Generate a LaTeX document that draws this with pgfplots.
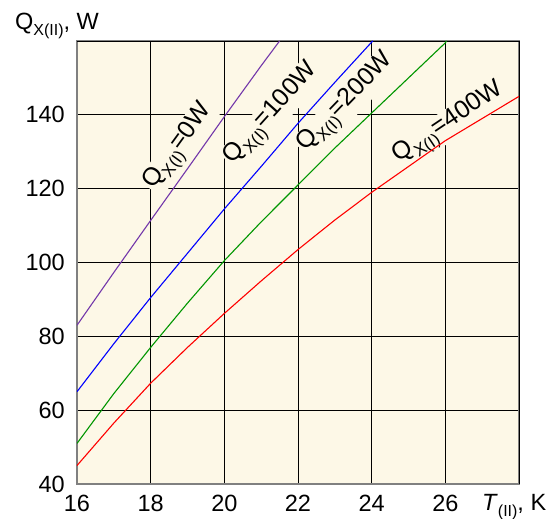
\documentclass[border=0pt]{standalone}
\usepackage{fontspec}
\setmainfont{Liberation Sans}
\usepackage{pgfplots}
\pgfplotsset{compat=1.18}
\definecolor{bgcream}{RGB}{253,248,231}
\definecolor{cpurple}{RGB}{115,55,170}
\definecolor{cgreen}{RGB}{0,150,0}
\newcommand\sub[1]{\raisebox{-0.25em}{\fontsize{16}{16}\selectfont #1}}
\newcommand\lsub[1]{\raisebox{-0.28em}{\fontsize{17}{17}\selectfont #1}}
\newcommand\bigf{\fontsize{23.5}{28}\selectfont}
\newcommand\lblf{\fontsize{25}{30}\selectfont}
\tikzset{lbl/.style={fill=bgcream, inner sep=1pt, font=\lblf}}
\begin{document}
\begin{tikzpicture}
\useasboundingbox (-77pt,-35pt) rectangle (483pt,484pt);
\begin{axis}[
  scale only axis, width=442pt, height=443pt,
  xmin=16, xmax=28, ymin=40, ymax=160,
  xtick={16,18,...,26}, ytick={40,60,...,140},
  extra x ticks={28}, extra x tick labels={},
  extra y ticks={160}, extra y tick labels={},
  grid=major, major grid style={black, line width=0.8pt},
  axis line style={gray, line width=1.3pt},
  major tick length=0pt, tick style={draw=none},
  axis background/.style={fill=bgcream},
  tick label style={font=\bigf},
  /pgf/number format/assume math mode=true,
  xticklabel style={anchor=base, inner sep=0pt, yshift=-28pt},
  yticklabel style={anchor=east, inner sep=0pt, xshift=-12pt},
]
\node[lbl, rotate=54] at (axis cs:18.78,131.1) {Q\lsub{X(I)}=0W};
\node[lbl, rotate=48] at (axis cs:21.3,140.0) {Q\lsub{X(I)}=100W};
\node[lbl, rotate=46] at (axis cs:23.32,143.0) {Q\lsub{X(I)}=200W};
\node[lbl, rotate=34] at (axis cs:26.11,137.4) {Q\lsub{X(I)}=400W};
\addplot[cpurple, line width=1.1pt] coordinates {
(16,83) (17,97.3) (18,111.4) (19,125.4) (20,139.5) (21,153.3) (21.5,160)};
\addplot[blue, line width=1.1pt] coordinates {
(16,65) (17,78) (18,90.5) (19,102.5) (20,114.5) (21,126) (22,137.7) (23,148.8) (24,159.7) (24.03,160)};
\addplot[cgreen, line width=1.1pt] coordinates {
(16,51) (17,64.5) (18,77) (19,89) (20,100.5) (21,111) (22,121) (23,131) (24,140.5) (25,150) (26,159.5) (26.03,160)};
\addplot[red, line width=1.1pt] coordinates {
(16,45) (17,56.5) (18,67.3) (19,77) (20,86.2) (21,95) (22,103.5) (23,111.5) (24,119) (25,126) (26,133) (27,139) (28,145)};
\end{axis}
\node[anchor=base west, inner sep=0pt, font=\bigf] at (-62pt,454pt) {Q\sub{X(II)}, W};
\node[anchor=base west, inner sep=0pt, font=\bigf] at (405pt,-27pt) {\textit{T}\sub{(II)}, K};
\end{tikzpicture}
\end{document}
